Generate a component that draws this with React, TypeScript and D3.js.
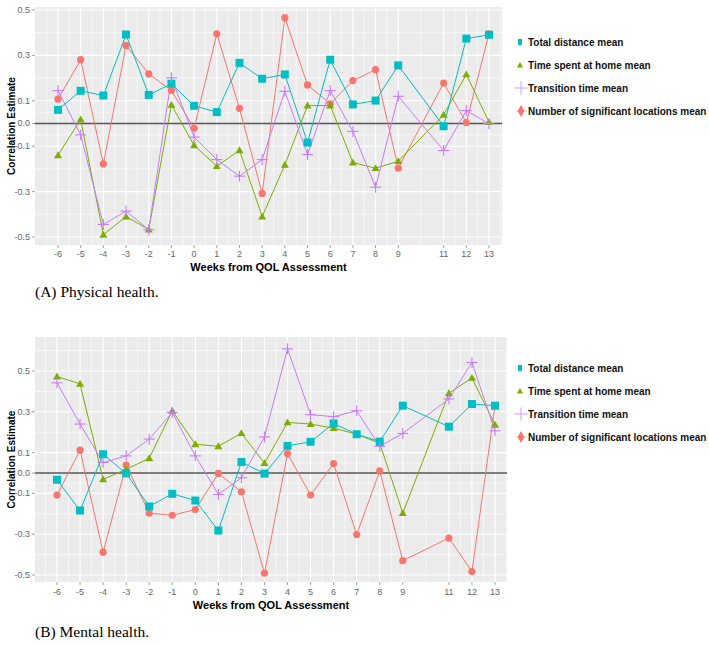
import * as d3 from 'd3'

// weeks relative to QOL assessment (week 10 missing)
const weeks = [-6, -5, -4, -3, -2, -1, 0, 1, 2, 3, 4, 5, 6, 7, 8, 9, 11, 12, 13]
const yTicks = [-0.5, -0.3, -0.1, 0, 0.1, 0.3, 0.5]
const yTickLabels = ['-0.5', '-0.3', '-0.1', '0.0', '0.1', '0.3', '0.5']

const seriesNames = [
  'Total distance mean',
  'Time spent at home mean',
  'Transition time mean',
  'Number of significant locations mean',
]

// (A) Physical health
const physDistance = [0.06, 0.144, 0.123, 0.392, 0.126, 0.175, 0.078, 0.05, 0.267, 0.197, 0.216, -0.084, 0.281, 0.084, 0.101, 0.256, -0.012, 0.374, 0.391]
const physHome = [-0.14, 0.018, -0.49, -0.41, -0.467, 0.082, -0.096, -0.188, -0.118, -0.41, -0.182, 0.079, 0.079, -0.172, -0.197, -0.166, 0.038, 0.216, 0.006]
const physTransition = [0.145, -0.05, -0.445, -0.386, -0.468, 0.201, -0.06, -0.159, -0.232, -0.159, 0.142, -0.137, 0.145, -0.035, -0.281, 0.12, -0.119, 0.057, -0.001]
const physLocations = [0.107, 0.281, -0.178, 0.344, 0.219, 0.145, -0.021, 0.395, 0.067, -0.308, 0.466, 0.17, 0.087, 0.189, 0.237, -0.197, 0.178, 0.004, 0.395]

// (B) Mental health
const mentDistance = [-0.033, -0.184, 0.092, -0.002, -0.164, -0.102, -0.135, -0.282, 0.054, -0.003, 0.133, 0.153, 0.243, 0.19, 0.154, 0.33, 0.227, 0.338, 0.33]
const mentHome = [0.473, 0.437, -0.031, 0.018, 0.072, 0.305, 0.141, 0.131, 0.195, 0.048, 0.248, 0.24, 0.22, 0.19, 0.146, -0.197, 0.391, 0.466, 0.236]
const mentTransition = [0.442, 0.24, 0.051, 0.084, 0.166, 0.297, 0.084, -0.105, -0.023, 0.177, 0.609, 0.286, 0.276, 0.305, 0.131, 0.194, 0.363, 0.542, 0.207]
const mentLocations = [-0.108, 0.112, -0.388, 0.039, -0.197, -0.207, -0.179, -0.002, -0.092, -0.491, 0.095, -0.108, 0.046, -0.302, 0.01, -0.43, -0.319, -0.483, 0.33]

const TEAL = '#00BFC4'
const GREEN = '#7CAE00'
const PURPLE = '#C77CFF'
const RED = '#F8766D'
const colors = [TEAL, GREEN, PURPLE, RED]
const shapes = ['square', 'triangle', 'plus', 'circle']
// ggplot draws in factor (alphabetical) order: locations, home, distance, transition
const drawOrder = [3, 1, 0, 2]

const SANS = '"Liberation Sans", Arial, sans-serif'
const SERIF = '"Liberation Serif", "Times New Roman", serif'

function Marker({ shape, x, y, color, s = 1 }: any) {
  if (shape === 'square') {
    const h = 4 * s
    return <rect x={x - h} y={y - h} width={2 * h} height={2 * h} fill={color} />
  }
  if (shape === 'triangle') {
    const r = 4.6 * s
    const p = d3.symbol(d3.symbolTriangle, r * r * 1.3)()
    return <path d={p ?? ''} transform={`translate(${x},${y + 0.6})`} fill={color} />
  }
  if (shape === 'plus') {
    const r = 5.5 * s
    return (
      <g stroke={color} strokeWidth={1.1}>
        <line x1={x - r} x2={x + r} y1={y} y2={y} />
        <line x1={x} x2={x} y1={y - r} y2={y + r} />
      </g>
    )
  }
  return <circle cx={x} cy={y} r={3.6 * s} fill={color} />
}

function Panel({ top, values, cfg, caption }: any) {
  const { left, right, y0, y1, xA, xB, yTop, yBottom, yMinor, legendY, tickY, titleY, captionY } = cfg
  const x = d3.scaleLinear().domain([-6, 13]).range([xA, xB])
  const y = d3.scaleLinear().domain([-0.5, 0.5]).range([yBottom, yTop])

  const xMinor = [-6.5, ...weeks.slice(0, -1).map((w, i) => (w + weeks[i + 1]) / 2), 13.5]
  const line = d3
    .line<number>()
    .x((_, i) => x(weeks[i]))
    .y((d) => y(d))

  return (
    <g transform={`translate(0,${top})`}>
      <rect x={left} y={y0} width={right - left} height={y1 - y0} fill="#EBEBEB" />
      {/* minor grid */}
      {yMinor.map((v: number) => (
        <line key={'ym' + v} x1={left} x2={right} y1={y(v)} y2={y(v)} stroke="#fff" strokeWidth={0.6} />
      ))}
      {xMinor.map((v) => (
        <line key={'xm' + v} x1={x(v)} x2={x(v)} y1={y0} y2={y1} stroke="#fff" strokeWidth={0.6} />
      ))}
      {/* major grid */}
      {yTicks.map((v) => (
        <line key={'y' + v} x1={left} x2={right} y1={y(v)} y2={y(v)} stroke="#fff" strokeWidth={1.1} />
      ))}
      {weeks.map((w) => (
        <line key={'x' + w} x1={x(w)} x2={x(w)} y1={y0} y2={y1} stroke="#fff" strokeWidth={1.1} />
      ))}
      <line x1={left} x2={right} y1={y(0)} y2={y(0)} stroke="#555" strokeWidth={1.4} />

      {/* lines */}
      {drawOrder.map((k) => (
        <path key={'l' + k} d={line(values[k]) ?? ''} fill="none" stroke={colors[k]} strokeWidth={1} />
      ))}
      {drawOrder.map((k) =>
        values[k].map((v: number, i: number) => (
          <Marker key={`p${k}-${i}`} shape={shapes[k]} x={x(weeks[i])} y={y(v)} color={colors[k]} />
        ))
      )}

      {/* y axis */}
      {yTicks.map((v, i) => (
        <g key={'yt' + v}>
          <line x1={left - 3} x2={left} y1={y(v)} y2={y(v)} stroke="#888" strokeWidth={0.8} />
          <text x={left - 5} y={y(v)} dy="0.33em" textAnchor="end" fontSize={9} fill="#666" fontFamily={SANS}>
            {yTickLabels[i]}
          </text>
        </g>
      ))}
      {/* x axis */}
      {weeks.map((w) => (
        <g key={'xt' + w}>
          <line x1={x(w)} x2={x(w)} y1={y1} y2={y1 + 3} stroke="#888" strokeWidth={0.8} />
          <text x={x(w)} y={tickY} dy="0.33em" textAnchor="middle" fontSize={9} fill="#666" fontFamily={SANS}>
            {w}
          </text>
        </g>
      ))}
      <text x={(left + right) / 2} y={titleY} dy="0.35em" textAnchor="middle" fontSize={11} fontWeight="bold" fontFamily={SANS} fill="#000">
        Weeks from QOL Assessment
      </text>
      <text
        transform={`translate(11,${(y0 + y1) / 2}) rotate(-90)`}
        textAnchor="middle"
        dy="0.35em"
        fontSize={10}
        fontWeight="bold"
        fontFamily={SANS}
        fill="#000"
      >
        Correlation Estimate
      </text>

      {/* legend */}
      {seriesNames.map((name, k) => {
        const ly = legendY + k * 23
        return (
          <g key={'lg' + k}>
            {shapes[k] === 'square' ? (
              <rect x={518} y={ly - 3} width={4} height={6} fill={colors[k]} />
            ) : shapes[k] === 'plus' ? (
              <g opacity={0.7}>
                <Marker shape="plus" x={521} y={ly} color={colors[k]} s={1.2} />
              </g>
            ) : shapes[k] === 'circle' ? (
              <g>
                <line x1={516} x2={527} y1={ly} y2={ly} stroke={colors[k]} strokeWidth={1} opacity={0.6} />
                <path d={d3.symbol(d3.symbolDiamond, 40)() ?? ''} transform={`translate(521,${ly})`} fill={colors[k]} />
              </g>
            ) : (
              <Marker shape={shapes[k]} x={520} y={ly} color={colors[k]} s={0.8} />
            )}
            <text x={528} y={ly} dy="0.35em" fontSize={10} fontWeight="bold" fontFamily={SANS} fill="#111">
              {name}
            </text>
          </g>
        )
      })}

      <text x={35} y={captionY} dy="0.35em" fontSize={15.5} fontFamily={SERIF} fill="#000">
        {caption}
      </text>
    </g>
  )
}

const topCfg = {
  left: 35, right: 502, y0: 7, y1: 245,
  xA: 58, xB: 489, yTop: 10, yBottom: 237,
  yMinor: [-0.4, -0.2, -0.05, 0.05, 0.2, 0.4],
  legendY: 42, tickY: 254, titleY: 267, captionY: 292,
}
const bottomCfg = {
  left: 35, right: 507, y0: 337, y1: 582,
  xA: 57, xB: 495, yTop: 371, yBottom: 575,
  yMinor: [-0.4, -0.2, -0.05, 0.05, 0.2, 0.4, 0.6],
  legendY: 368, tickY: 592, titleY: 605, captionY: 632,
}

export default function App() {
  return (
    <svg
      width={709}
      height={645}
      style={{ position: 'absolute', left: 0, top: 0, background: '#fff' }}
    >
      <Panel top={0} cfg={topCfg} values={[physDistance, physHome, physTransition, physLocations]} caption="(A) Physical health." />
      <Panel top={0} cfg={bottomCfg} values={[mentDistance, mentHome, mentTransition, mentLocations]} caption="(B) Mental health." />
    </svg>
  )
}
